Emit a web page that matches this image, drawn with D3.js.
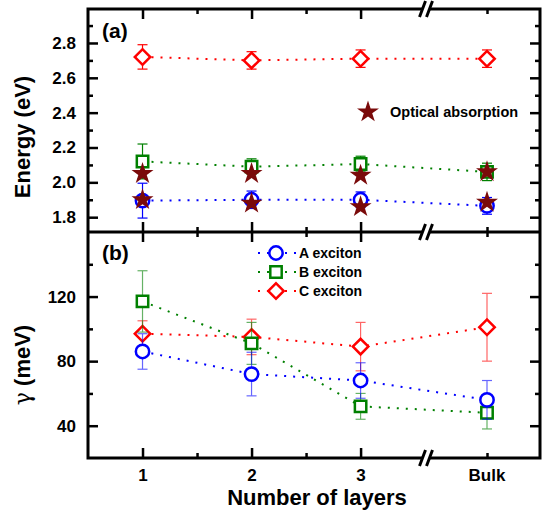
<!DOCTYPE html>
<html>
<head>
<meta charset="utf-8">
<script src="https://cdn.jsdelivr.net/npm/d3@7"></script>
<style>
  body { margin: 0; background: #fff; }
  svg { display: block; font-family: "Liberation Sans", Arial, sans-serif; font-weight: bold; }
</style>
</head>
<body>
<div id="chart"></div>
<script>
/**
 * DATA
 * */
const layers = [1, 2, 3, 4];
const layerLabels = ["1", "2", "3", "Bulk"];

// (a) exciton energies (eV) and error bars
const energyA = [1.895, 1.90, 1.90, 1.865];
const energyAErr = [0.10, 0.05, 0.045, 0.048];
const energyB = [2.12, 2.09, 2.105, 2.06];
const energyBErr = [0.10, 0.045, 0.045, 0.05];
const energyC = [2.72, 2.70, 2.71, 2.71];
const energyCErr = [0.07, 0.05, 0.05, 0.05];
const absorptionHigh = [2.05, 2.05, 2.04, 2.06];
const absorptionLow = [1.90, 1.88, 1.86, 1.885];

// (b) broadening gamma (meV)
const gammaA = [86, 72, 68, 56];
const gammaAErr = [11, 13.5, 11, 12];
const gammaB = [117, 91, 52, 48];
const gammaBErr = [19, 13, 8, 10];
const gammaC = [97, 95, 89, 101];
const gammaCErr = [8, 11, 15, 21];

const energyTicks = [1.8, 2.0, 2.2, 2.4, 2.6, 2.8];
const energyMinor = [1.9, 2.1, 2.3, 2.5, 2.7, 2.9];
const gammaTicks = [40, 80, 120];
const gammaMinor = [60, 100, 140];
const layerMinor = [1.5, 2.5, 4];

/**
 * CONSTANTS
 * */
const width = 542, height = 518;
const pLeft = 88, pRight = 540, pTop = 9, pMid = 232, pBottom = 458;
const blue = "#0000ff", green = "#008000", red = "#ff0000", starColor = "#7a0a0a";

const svg = d3.select("#chart").append("svg")
  .attr("width", width)
  .attr("height", height);

// broken x axis: linear up to the break, Bulk placed after it
const x = d3.scaleLinear().domain([0.5, 3.6, 4, 4.5]).range([pLeft, 426, 487, pRight]);
const yTop = d3.scaleLinear().domain([1.715, 2.995]).range([pMid, pTop]);
const yBot = d3.scaleLinear().domain([20, 160]).range([pBottom, pMid]);

/**
 * AXES (ticks point inward)
 * */
function ticks(axis, tr) {
  const g = svg.append("g").attr("transform", tr).call(axis);
  g.select(".domain").remove();
  g.selectAll(".tick line").attr("stroke", "#000").attr("stroke-width", 2.5);
  g.selectAll(".tick text").attr("font-size", 17).attr("font-weight", "bold").attr("fill", "#000")
    .attr("font-family", "Liberation Sans, Arial, sans-serif");
  return g;
}

function panelAxes(y, major, minor, fmt, bottomLabels) {
  const [y0, y1] = y.range();
  ticks(d3.axisLeft(y).tickValues(major).tickSize(-10).tickPadding(12).tickFormat(fmt), `translate(${pLeft},0)`);
  ticks(d3.axisLeft(y).tickValues(minor).tickSize(-5).tickFormat(""), `translate(${pLeft},0)`);
  ticks(d3.axisRight(y).tickValues(major).tickSize(-10).tickFormat(""), `translate(${pRight},0)`);
  ticks(d3.axisRight(y).tickValues(minor).tickSize(-5).tickFormat(""), `translate(${pRight},0)`);
  ticks(d3.axisBottom(x).tickValues(layers.slice(0, 3)).tickSize(-10).tickPadding(11)
    .tickFormat(bottomLabels ? (d, i) => layerLabels[i] : ""), `translate(0,${y0})`);
  ticks(d3.axisBottom(x).tickValues(layerMinor).tickSize(-5).tickFormat(""), `translate(0,${y0})`);
  ticks(d3.axisTop(x).tickValues(layers.slice(0, 3)).tickSize(-10).tickFormat(""), `translate(0,${y1})`);
  ticks(d3.axisTop(x).tickValues(layerMinor).tickSize(-5).tickFormat(""), `translate(0,${y1})`);
}

panelAxes(yTop, energyTicks, energyMinor, d3.format(".1f"), false);
panelAxes(yBot, gammaTicks, gammaMinor, d3.format("d"), true);

// Bulk label (no major tick there)
svg.append("text")
  .attr("x", x(4)).attr("y", 481)
  .attr("text-anchor", "middle").attr("font-size", 17)
  .text(layerLabels[3]);

// frame
svg.append("rect")
  .attr("x", pLeft).attr("y", pTop)
  .attr("width", pRight - pLeft).attr("height", pBottom - pTop)
  .attr("fill", "none").attr("stroke", "#000").attr("stroke-width", 3);
svg.append("line")
  .attr("x1", pLeft).attr("x2", pRight).attr("y1", pMid).attr("y2", pMid)
  .attr("stroke", "#000").attr("stroke-width", 3);

// axis break marks
const bx = x(3.6);
[pTop, pMid, pBottom].forEach(yy => {
  svg.append("rect").attr("x", bx - 3).attr("y", yy - 2).attr("width", 6).attr("height", 4).attr("fill", "#fff");
  [-3.5, 3.5].forEach(dx => {
    svg.append("line")
      .attr("x1", bx + dx - 3).attr("y1", yy + 8)
      .attr("x2", bx + dx + 3).attr("y2", yy - 8)
      .attr("stroke", "#000").attr("stroke-width", 3);
  });
});

// titles
svg.append("text")
  .attr("transform", "translate(30,137) rotate(-90)")
  .attr("text-anchor", "middle").attr("font-size", 22)
  .text("Energy (eV)");
const gTitle = svg.append("text")
  .attr("transform", "translate(30,365) rotate(-90)")
  .attr("text-anchor", "middle").attr("font-size", 22);
gTitle.append("tspan").attr("font-family", "DejaVu Serif, serif").attr("font-weight", "normal").text("γ");
gTitle.append("tspan").text(" (meV)");
svg.append("text")
  .attr("x", 317).attr("y", 505)
  .attr("text-anchor", "middle").attr("font-size", 22)
  .text("Number of layers");
svg.append("text").attr("x", 102).attr("y", 38).attr("font-size", 21).text("(a)");
svg.append("text").attr("x", 102).attr("y", 260).attr("font-size", 21).text("(b)");

/**
 * SERIES
 * */
const shapes = {
  circle: d3.symbol().type(d3.symbolCircle).size(140),
  square: d3.symbol().type(d3.symbolSquare).size(130),
  diamond: d3.symbol().type(d3.symbolSquare).size(120),
};

function series(y, values, errs, color, shape, errOpacity) {
  const pts = layers.map((l, i) => ({ x: x(l), y: y(values[i]), lo: y(values[i] - errs[i]), hi: y(values[i] + errs[i]) }));
  svg.append("path")
    .attr("d", d3.line().x(d => d.x).y(d => d.y)(pts))
    .attr("fill", "none").attr("stroke", color)
    .attr("stroke-width", 2).attr("stroke-dasharray", "2,7");
  const eb = svg.append("g").attr("stroke", color).attr("stroke-width", 1.2).attr("opacity", errOpacity);
  pts.forEach(d => {
    eb.append("line").attr("x1", d.x).attr("x2", d.x).attr("y1", d.lo).attr("y2", d.hi);
    eb.append("line").attr("x1", d.x - 5).attr("x2", d.x + 5).attr("y1", d.lo).attr("y2", d.lo);
    eb.append("line").attr("x1", d.x - 5).attr("x2", d.x + 5).attr("y1", d.hi).attr("y2", d.hi);
  });
  svg.append("g").selectAll("path").data(pts).join("path")
    .attr("d", shapes[shape])
    .attr("transform", d => `translate(${d.x},${d.y})` + (shape === "diamond" ? " rotate(45)" : ""))
    .attr("fill", "#fff").attr("stroke", color).attr("stroke-width", 2.5);
}

series(yTop, energyC, energyCErr, red, "diamond", 1);
series(yTop, energyB, energyBErr, green, "square", 1);
series(yTop, energyA, energyAErr, blue, "circle", 1);

const starSym = d3.symbol().type(d3.symbolStar).size(150);
svg.append("g").selectAll("path")
  .data(layers.flatMap((l, i) => [[l, absorptionHigh[i]], [l, absorptionLow[i]]]))
  .join("path")
  .attr("d", starSym)
  .attr("transform", d => `translate(${x(d[0])},${yTop(d[1])})`)
  .attr("fill", starColor);

series(yBot, gammaC, gammaCErr, red, "diamond", 0.6);
series(yBot, gammaB, gammaBErr, green, "square", 0.6);
series(yBot, gammaA, gammaAErr, blue, "circle", 0.6);

/**
 * LEGENDS
 * */
svg.append("path").attr("d", starSym).attr("transform", "translate(368,112)").attr("fill", starColor);
svg.append("text").attr("x", 390).attr("y", 117).attr("font-size", 14.5).text("Optical absorption");

const legendRows = [
  { label: "A exciton", color: blue, shape: "circle", y: 253 },
  { label: "B exciton", color: green, shape: "square", y: 272 },
  { label: "C exciton", color: red, shape: "diamond", y: 291 },
];
legendRows.forEach(r => {
  svg.append("line")
    .attr("x1", 258).attr("x2", 296).attr("y1", r.y).attr("y2", r.y)
    .attr("stroke", r.color).attr("stroke-width", 2).attr("stroke-dasharray", "2,7");
  svg.append("path")
    .attr("d", shapes[r.shape])
    .attr("transform", `translate(276,${r.y})` + (r.shape === "diamond" ? " rotate(45)" : ""))
    .attr("fill", "#fff").attr("stroke", r.color).attr("stroke-width", 2.5);
  svg.append("text").attr("x", 299).attr("y", r.y + 5).attr("font-size", 14).text(r.label);
});
</script>
</body>
</html>
